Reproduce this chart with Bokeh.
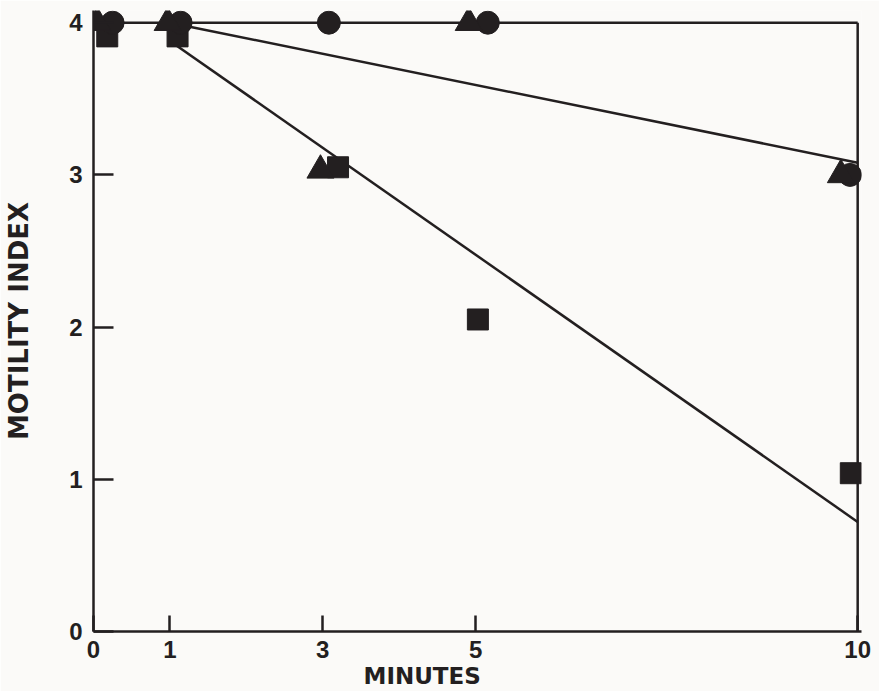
from bokeh.plotting import figure
from bokeh.models import Range1d, FixedTicker, Title
from bokeh.embed import file_html
from bokeh.resources import INLINE

# ---- data ----
x_ticks = [0, 1, 3, 5, 10]
y_ticks = [0, 1, 2, 3, 4]
x_title = "MINUTES"
y_title = "MOTILITY INDEX"

circle_x = [0.25, 1.14, 3.08, 5.16, 9.90]
circle_y = [4.0, 4.0, 4.0, 4.0, 3.0]

triangle_x = [0.05, 0.97, 2.97, 4.91, 9.78]
triangle_y = [4.0, 4.0, 3.03, 4.0, 3.0]

square_x = [0.18, 1.10, 3.20, 5.03, 9.91]
square_y = [3.91, 3.91, 3.05, 2.05, 1.04]

fit_a_x = [0, 10]
fit_a_y = [4.0, 4.0]
fit_b_x = [1, 10]
fit_b_y = [4.0, 3.08]
fit_c_x = [1, 10]
fit_c_y = [3.88, 0.72]

X_MAX = 10
Y_MAX = 4

INK = "#231f20"
BG = "#fbfaf8"
FONT = "Liberation Sans"
TFONT = "DejaVu Sans"

p = figure(width=879, height=691, output_backend="svg", toolbar_location=None,
           x_range=Range1d(0, 10.05), y_range=Range1d(0, 4.08),
           min_border_left=93, min_border_right=18, min_border_top=10,
           min_border_bottom=60)
p.background_fill_color = BG
p.border_fill_color = BG
p.outline_line_color = None
p.grid.visible = False

for ax in (p.xaxis[0], p.yaxis[0]):
    ax.axis_line_color = INK
    ax.axis_line_width = 2.5
    ax.major_tick_line_color = INK
    ax.major_tick_line_width = 2.5
    ax.major_tick_out = 0
    ax.minor_tick_line_color = None
    ax.major_label_text_font = FONT
    ax.major_label_text_font_size = "24px"
    ax.major_label_text_font_style = "bold"
    ax.major_label_text_color = INK

p.xaxis.ticker = FixedTicker(ticks=x_ticks)
p.yaxis.ticker = FixedTicker(ticks=y_ticks)
p.xaxis.major_tick_in = 16
p.yaxis.major_tick_in = 20
p.xaxis.major_label_standoff = 9
p.yaxis.major_label_standoff = 11

p.yaxis.axis_label = y_title
p.yaxis.axis_label_standoff = 32
p.yaxis.axis_label_text_font = TFONT
p.yaxis.axis_label_text_font_size = "26px"
p.yaxis.axis_label_text_font_style = "bold"
p.yaxis.axis_label_text_color = INK

# frame lines (top and right)
p.line(fit_a_x, fit_a_y, line_color=INK, line_width=2.5)
p.line([X_MAX, X_MAX], [0, Y_MAX], line_color=INK, line_width=2.5)

# fitted lines
p.line(fit_b_x, fit_b_y, line_color=INK, line_width=2.5)
p.line(fit_c_x, fit_c_y, line_color=INK, line_width=2.5)

# markers
p.scatter(square_x, square_y, marker="square", size=21, fill_color=INK, line_color=INK)
p.scatter(circle_x, circle_y, marker="circle", size=23, fill_color=INK, line_color=INK)
p.scatter(triangle_x, triangle_y, marker="triangle", size=27, fill_color=INK, line_color=INK)

# x axis title (placed left of centre, as in the reference)
p.add_layout(Title(text=x_title, align="left", offset=270, standoff=0,
                   text_font=TFONT, text_font_size="23px", text_font_style="bold",
                   text_color=INK), "below")

open("out.html", "w").write(file_html(p, INLINE))
